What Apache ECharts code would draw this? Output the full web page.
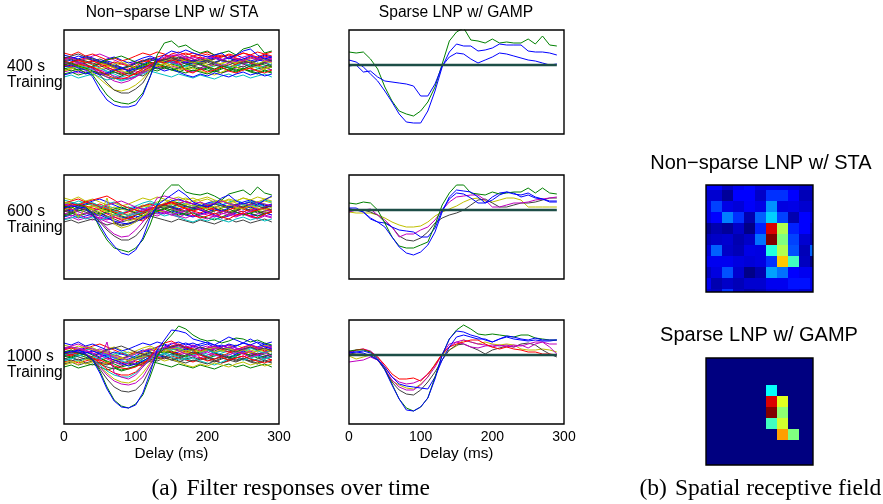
<!DOCTYPE html>
<html><head><meta charset="utf-8">
<script src="https://cdn.jsdelivr.net/npm/echarts@6/dist/echarts.min.js"></script>
<style>html,body{margin:0;padding:0;background:#fff}#c{width:883px;height:504px}</style>
</head><body><div id="c"></div>
<script>
// ---------- DATA ----------
const delays = [0,10,20,30,40,50,60,70,80,90,100,110,120,130,140,150,160,170,180,190,200,210,220,230,240,250,260,270,280,290];
const xTicks = [0,100,200,300];
const rowLabels = ['400 s', '600 s', '1000 s'];

// background (noisy) filters of the non-sparse STA estimate
const noise01 = [3,5,2,0,-2,1,4,2,-3,-5,-2,1,4,6,3,5,8,6,4,2,5,7,4,3,6,5,2,4,6,3];
const noise02 = [-4,-2,-5,-3,-6,-8,-10,-7,-9,-6,-3,-1,2,0,-2,1,-1,-4,-6,-3,-5,-7,-4,-2,-5,-3,-6,-4,-2,-5];
const noise03 = [6,8,5,7,4,2,0,-3,-5,-4,-1,3,5,8,10,7,5,6,9,7,4,6,8,10,7,5,8,6,9,7];
const noise04 = [0,-2,1,3,0,-3,-6,-9,-12,-10,-8,-4,0,3,2,4,1,-1,2,0,-3,-1,1,-2,0,2,-1,1,3,0];
const noise05 = [-7,-5,-8,-6,-4,-6,-3,-5,-7,-9,-6,-8,-5,-2,-4,-1,-3,-5,-7,-4,-2,-5,-8,-6,-3,-1,-4,-6,-3,-5];
const noise06 = [2,0,3,5,7,4,2,-1,1,3,0,-3,-1,2,5,9,7,4,2,3,1,-1,2,4,1,3,6,8,5,3];
const noise07 = [-2,1,-1,2,4,6,3,0,-2,-6,-9,-11,-6,-2,1,3,0,2,-1,-3,0,2,5,3,0,-2,1,-1,-4,-2];
const noise08 = [8,6,9,7,5,3,6,8,5,2,4,7,9,6,4,2,5,3,1,4,6,3,5,8,10,7,4,6,3,5];
const noise09 = [-9,-7,-10,-8,-6,-9,-12,-14,-11,-8,-10,-7,-4,-6,-3,-5,-7,-4,-2,-5,-3,-6,-8,-5,-7,-4,-6,-8,-5,-7];
const noise10 = [4,2,5,3,1,-2,0,3,1,-1,2,5,3,0,-2,1,3,6,4,8,5,2,0,-3,1,4,2,0,-2,1];
const noise11 = [-1,-3,0,-2,-5,-3,-7,-12,-15,-13,-11,-6,-2,1,4,2,0,-2,1,3,5,2,-1,-3,-1,2,0,-3,-1,1];
const noise12 = [5,7,4,6,9,11,8,5,2,0,3,1,-2,4,6,3,1,4,2,0,-2,1,-1,2,4,1,3,0,2,4];
const noise13 = [-5,-3,-6,-4,-1,2,0,-3,-6,-8,-5,-2,1,-1,2,0,-2,-5,-3,-6,-8,-10,-7,-4,-2,-5,-3,-1,-4,-2];
const noise14 = [1,3,6,4,2,0,-4,-7,-10,-8,-5,-3,0,2,5,8,6,9,6,3,4,6,9,7,5,2,4,1,3,5];
const noise15 = [10,8,6,9,7,4,2,-1,-3,-1,2,4,7,5,3,6,4,2,5,3,6,8,5,7,4,6,9,7,10,8];
const noise16 = [-3,-6,-4,-8,-10,-7,-9,-6,-4,-1,-3,0,3,1,-1,-3,-6,-8,-5,-7,-9,-6,-3,-5,-2,-4,-7,-9,-6,-8];
const noise17 = [12,10,13,9,11,8,5,7,4,6,9,12,10,13,11,8,10,12,9,11,13,10,8,11,9,12,10,8,11,13];
const noise18 = [-12,-10,-13,-11,-9,-12,-15,-13,-16,-14,-11,-9,-6,-8,-10,-12,-9,-11,-13,-10,-12,-14,-11,-9,-12,-10,-13,-11,-9,-12];
const noise19 = [1,-1,2,0,-3,-5,-8,-11,-13,-14,-12,-8,-3,2,6,9,11,8,6,4,7,9,6,3,5,8,10,7,4,6];
const noise20 = [-6,-4,-1,1,-2,-4,-2,1,3,0,-3,-6,-4,-1,1,-2,-5,-3,0,2,-1,-4,-2,1,-2,-5,-3,-6,-4,-1];
const noise21 = [7,9,11,8,6,3,1,-2,-4,-2,1,4,6,3,5,7,4,1,-1,1,3,0,-2,0,3,1,-2,0,2,-1];
const noise22 = [-10,-8,-6,-9,-7,-10,-8,-5,-3,-6,-4,-2,0,-3,-6,-4,-7,-10,-12,-9,-11,-8,-10,-12,-9,-7,-10,-8,-11,-9];
const noise23 = [3,1,-2,-4,-1,2,5,7,9,6,3,1,-1,-4,-2,-5,-3,0,3,1,-2,-4,-1,-3,-6,-4,-1,2,0,-2];
const noise24 = [0,3,5,2,4,1,-2,-5,-8,-11,-9,-6,-2,3,7,11,13,10,12,9,11,8,10,7,9,12,10,13,11,9];

// non-sparse, 400 s
const ns400_g = [0,2,-1,-3,-10,-20,-30,-36,-38,-39,-36,-28,-12,10,22,24,18,20,15,12,14,10,12,14,10,16,18,21,12,14];
const ns400_b = [-2,0,-3,-5,-12,-25,-35,-40,-42,-42,-40,-30,-12,5,10,14,12,15,12,10,8,10,12,6,10,14,16,10,6,8];
const ns400_k = [4,6,3,1,-3,-10,-18,-25,-28,-28,-24,-18,-6,3,6,4,8,5,3,6,4,2,5,3,6,4,2,5,7,4];
const ns400_y = [-2,0,-1,-4,-8,-14,-20,-25,-26,-24,-20,-14,-5,2,4,6,3,5,2,4,6,3,1,4,2,5,3,1,4,2];
const ns400_m = [2,1,3,0,-4,-8,-12,-16,-18,-16,-12,-6,0,5,8,10,9,7,8,6,9,7,5,8,6,4,7,5,8,6];
const ns400_r = [0,-2,1,-1,-2,-6,-10,-13,-14,-12,-8,-4,1,4,2,5,3,-6,-8,-4,-7,-5,-2,-6,-8,-5,-3,-6,-8,-5];
// non-sparse, 600 s
const ns600_b = [2,4,3,2,-5,-15,-27,-36,-43,-45,-40,-28,-8,5,10,15,20,15,8,5,3,6,12,15,9,6,8,5,10,14];
const ns600_g = [4,2,5,3,-3,-18,-30,-38,-40,-42,-38,-30,-15,5,18,25,25,18,16,15,17,14,10,16,18,20,15,23,17,15];
const ns600_k = [3,5,2,0,-4,-12,-20,-26,-30,-30,-26,-18,-6,2,5,3,6,4,2,5,3,6,4,2,5,3,6,4,2,5];
const ns600_m = [6,4,5,2,-2,-10,-18,-24,-27,-26,-20,-12,0,12,14,12,10,8,6,8,5,7,9,6,4,7,5,8,6,4];
const ns600_y = [8,6,-8,2,0,-6,12,-14,-18,-16,-12,-6,0,5,3,6,4,2,5,3,1,4,2,5,3,1,4,2,0,3];
const ns600_r = [4,6,5,8,10,12,14,10,5,2,0,-2,1,4,6,8,4,2,-5,-8,-6,-3,-7,-9,-5,-3,-6,-8,-4,-2];
// non-sparse, 1000 s
const ns1000_b = [2,4,3,1,-5,-18,-34,-46,-52,-53,-50,-38,-18,5,15,25,24,22,16,14,12,10,14,18,15,12,16,12,8,6];
const ns1000_g = [3,5,2,0,-4,-16,-32,-45,-51,-53,-49,-40,-22,-2,12,20,29,26,20,16,14,15,12,14,17,16,13,15,12,10];
const ns1000_k = [1,3,2,0,-5,-14,-24,-32,-36,-37,-35,-28,-14,0,6,8,10,7,5,8,6,4,7,5,3,6,8,5,7,4];
const ns1000_m = [4,2,3,1,-4,-12,-20,-26,-29,-30,-28,-22,-10,2,8,12,10,8,10,7,9,6,8,10,7,5,8,6,9,7];
const ns1000_y = [-8,-6,-10,-4,-6,-12,-18,-24,-27,-28,-25,-18,-8,1,5,7,6,4,6,3,5,7,4,6,3,5,2,4,6,3];
const ns1000_c = [0,2,-1,1,-4,-10,-16,-20,-22,-22,-18,-12,-4,4,6,5,7,4,6,3,5,2,4,6,3,5,7,4,2,5];
const ns1000_r = [2,0,3,1,-3,-8,-14,-18,-20,-20,-17,-10,-2,8,12,14,10,8,6,-3,-6,-4,-2,-5,-3,-1,-4,-6,-8,-5];
const ns1000_m2 = [6,8,7,5,2,-5,13,-18,-22,-24,-20,-12,-4,5,8,7,9,6,8,5,7,9,6,8,5,7,10,8,6,9];

// sparse (GAMP), 400 s
const sp400_g = [13,12,13,6,-4,-22,-36,-46,-49,-51,-46,-37,-22,1,24,33,37,25,24,22,26,22,23,22,22,26,21,29,20,19];
const sp400_b1 = [5,3,-2,-9,-16,-26,-37,-49,-57,-58,-58,-46,-26,-2,13,21,19,19,14,15,17,21,20,20,20,14,13,13,12,10];
const sp400_b2 = [-1,0,-7,-6,-12,-16,-17,-18,-19,-21,-31,-31,-19,-1,8,12,11,6,2,5,8,12,11,9,7,5,4,2,0,1];
// sparse (GAMP), 600 s
const sp600_g = [7,6,8,7,0,-13,-27,-36,-38,-38,-35,-32,-15,5,17,25,25,17,16,15,18,16,17,18,18,22,17,22,17,16];
const sp600_b1 = [2,2,-2,-8,-12,-17,-27,-37,-43,-45,-42,-35,-22,-2,13,20,19,18,13,7,10,15,18,16,15,17,13,11,9,9];
const sp600_b2 = [1,0,-2,-9,-12,-13,-17,-20,-21,-22,-27,-27,-18,0,11,17,16,12,7,7,13,17,18,17,13,15,12,11,8,8];
const sp600_m = [-2,0,0,1,-5,-10,-17,-27,-24,-24,-20,-17,-10,0,8,13,14,15,15,10,3,3,5,7,7,8,10,11,12,13];
const sp600_k = [1,0,0,-2,-5,-12,-17,-26,-30,-31,-28,-22,-13,-8,-5,-3,0,5,10,11,7,3,3,5,7,7,8,10,12,12];
const sp600_y = [-2,-3,-3,-3,-5,-8,-12,-15,-17,-17,-16,-12,-6,-2,1,4,8,11,12,9,8,10,12,12,10,3,3,3,3,3];
// sparse (GAMP), 1000 s
const sp1000_g = [4,5,5,3,-4,-14,-29,-44,-53,-56,-52,-43,-22,0,16,25,30,26,21,20,21,20,19,18,20,20,17,16,15,15];
const sp1000_b1 = [3,3,4,2,-4,-15,-30,-44,-55,-56,-52,-43,-24,0,16,24,23,20,18,15,13,16,19,18,16,15,17,15,15,15];
const sp1000_b2 = [2,3,2,-1,-5,-12,-22,-29,-31,-32,-33,-34,-22,-5,8,18,20,18,16,16,13,16,18,16,15,14,15,14,14,15];
const sp1000_r = [3,5,6,3,-2,-10,-19,-24,-24,-23,-26,-19,-10,1,8,11,13,15,15,11,8,6,8,6,5,3,3,1,1,0];
const sp1000_m1 = [1,5,6,4,-2,-12,-22,-27,-29,-28,-25,-19,-10,1,8,13,15,13,11,10,8,10,8,10,9,11,13,13,11,11];
const sp1000_m2 = [-7,-6,-5,-2,-5,-14,-25,-32,-35,-35,-30,-22,-12,1,11,13,11,8,7,9,10,9,10,8,10,7,11,13,8,1];
const sp1000_k = [2,1,1,0,-5,-14,-27,-35,-39,-40,-35,-27,-17,-5,5,10,11,8,5,1,5,7,9,8,11,12,10,5,1,-2];
const sp1000_y = [-1,-4,-2,0,-5,-15,-26,-30,-33,-34,-29,-22,-9,1,5,9,15,13,11,13,11,10,11,10,6,5,5,6,5,3];
// filters that GAMP set exactly to zero
const zeroFilter = [0,0,0,0,0,0,0,0,0,0,0,0,0,0,0,0,0,0,0,0,0,0,0,0,0,0,0,0,0,0];

// spatial receptive fields (jet colour scale, 0..1)
const staField = [
  [0.12,0.12,0.07,0.11,0.13,0.095,0.10,0.095,0.087,0.071,0.079],
  [0.079,0.079,0.026,0.125,0.125,0.071,0.172,0.172,0.125,0.055,0.047],
  [0.095,0.188,0.10,0.087,0.12,0.10,0.266,0.095,0.10,0.079,0.071],
  [0.095,0.125,0.25,0.172,0.047,0.219,0.329,0.188,0.047,0.125,0.095],
  [0.016,0.047,0.026,0.071,0.007,0.156,0.91,0.547,0.156,0.125,0.063],
  [0.055,0.071,0.079,0.047,0.071,0.235,1.0,0.5,0.188,0.079,0.047],
  [0.087,0.219,0.071,0.055,0.10,0.095,0.406,0.547,0.203,0.055,0.219],
  [0.11,0.11,0.11,0.095,0.087,0.095,0.172,0.679,0.4375,0.063,0.007],
  [0.063,0.095,0.203,0.079,0.007,0.047,0.282,0.235,0.125,0.11,0.10],
  [0.11,0.047,0.071,0.055,0.079,0.079,0.11,0.11,0.141,0.141,0.10],
  [0.079,0.063,0.172,0.063,0.04,0.055,0.087,0.095,0.095,0.079,0.071]
];
const gampField = [
  [0,0,0,0,0,0,0,0,0,0,0],
  [0,0,0,0,0,0,0,0,0,0,0],
  [0,0,0,0,0,0,0,0,0,0,0],
  [0,0,0,0,0,0,0.38,0,0,0,0],
  [0,0,0,0,0,0,0.91,0.595,0,0,0],
  [0,0,0,0,0,0,1.0,0.515,0,0,0],
  [0,0,0,0,0,0,0.4375,0.58,0,0,0],
  [0,0,0,0,0,0,0,0.72,0.5,0,0],
  [0,0,0,0,0,0,0,0,0,0,0],
  [0,0,0,0,0,0,0,0,0,0,0],
  [0,0,0,0,0,0,0,0,0,0,0]
];

// ---------- STYLE / LAYOUT ----------
const COL = {b:'#0000ff', g:'#008000', r:'#ff0000', c:'#00bfbf', m:'#bf00bf', y:'#bfbf00', k:'#404040'};
const cycle = ['b','g','r','c','m','y','k'];
const JET = ['#000080','#0000ff','#0080ff','#00ffff','#80ff80','#ffff00','#ff8000','#ff0000','#800000'];
const SANS = '"Liberation Sans", Arial, Helvetica, sans-serif';
const SERIF = '"Liberation Serif", "Times New Roman", serif';

const noiseSet = [noise01,noise02,noise03,noise04,noise05,noise06,noise07,noise08,noise09,noise10,noise11,noise12,
  noise13,noise14,noise15,noise16,noise17,noise18,noise19,noise20,noise21,noise22,noise23,noise24];
const panels = [
  {grid:0, lines: noiseSet.map((d,i)=>[cycle[i%7], d]).concat([['y',ns400_y],['k',ns400_k],['m',ns400_m],['r',ns400_r],['g',ns400_g],['b',ns400_b]])},
  {grid:1, lines: [['g',sp400_g],['b',sp400_b1],['b',sp400_b2]], zero:true},
  {grid:2, lines: noiseSet.map((d,i)=>[cycle[(i+3)%7], d]).concat([['y',ns600_y],['r',ns600_r],['k',ns600_k],['m',ns600_m],['g',ns600_g],['b',ns600_b]])},
  {grid:3, lines: [['y',sp600_y],['k',sp600_k],['m',sp600_m],['b',sp600_b2],['g',sp600_g],['b',sp600_b1]], zero:true},
  {grid:4, lines: noiseSet.map((d,i)=>[cycle[(i+5)%7], d]).concat([['c',ns1000_c],['r',ns1000_r],['y',ns1000_y],['m',ns1000_m],['m',ns1000_m2],['k',ns1000_k],['g',ns1000_g],['b',ns1000_b]])},
  {grid:5, lines: [['y',sp1000_y],['k',sp1000_k],['m',sp1000_m1],['m',sp1000_m2],['r',sp1000_r],['b',sp1000_b2],['g',sp1000_g],['b',sp1000_b1]], zero:true}
];

const lineGrids = [
  {left:64, top:30}, {left:349, top:30},
  {left:64, top:175}, {left:349, top:175},
  {left:64, top:320}, {left:349, top:320}
];
const gridBase = {show:true, borderColor:'#000', borderWidth:1.4, backgroundColor:'transparent', z:10};
const grids = lineGrids.map(g => Object.assign({}, gridBase, {left:g.left, top:g.top, width:215, height:104}));
grids.push(Object.assign({}, gridBase, {left:706, top:185, width:107, height:107}));
grids.push(Object.assign({}, gridBase, {left:706, top:358, width:107, height:107}));

const xAxes = [], yAxes = [];
for (let i = 0; i < 6; i++) {
  const bottom = i >= 4;
  xAxes.push({
    gridIndex:i, type:'value', min:xTicks[0], max:xTicks[xTicks.length-1], interval:xTicks[1]-xTicks[0],
    axisLine:{show:false}, axisTick:{show:false}, splitLine:{show:false},
    axisLabel:{show:bottom, color:'#000', fontSize:14, fontFamily:SANS, margin:6},
    name: bottom ? 'Delay (ms)' : '', nameLocation:'middle', nameGap:22,
    nameTextStyle:{color:'#000', fontSize:15.3, fontFamily:SANS}
  });
  yAxes.push({gridIndex:i, type:'value', min:-69, max:35, show:false, splitLine:{show:false}});
}
for (let i = 6; i < 8; i++) {
  xAxes.push({gridIndex:i, type:'value', min:0.55, max:10.3, show:false, splitLine:{show:false}});
  yAxes.push({gridIndex:i, type:'value', min:0.55, max:10.3, inverse:true, show:false, splitLine:{show:false}});
}

const series = [];
panels.forEach(p => {
  p.lines.forEach(([c, vals]) => {
    series.push({
      type:'line', xAxisIndex:p.grid, yAxisIndex:p.grid, symbol:'none', silent:true,
      data: delays.map((t,k)=>[t, vals[k]]),
      lineStyle:{color:COL[c], width:1}, itemStyle:{color:COL[c]}, clip:true
    });
  });
  if (p.zero) {
    series.push({
      type:'line', xAxisIndex:p.grid, yAxisIndex:p.grid, symbol:'none', silent:true,
      data: delays.map((t,k)=>[t, zeroFilter[k]]),
      lineStyle:{color:'#1d4e47', width:2.6}, clip:true, z:3
    });
  }
});

function fieldData(field) {
  const out = [];
  field.forEach((row, r) => row.forEach((v, c) => out.push([c, r, v])));
  return out;
}
function renderCell(params, api) {
  const c = api.value(0), r = api.value(1);
  const p0 = api.coord([c, r]), p1 = api.coord([c + 1, r + 1]);
  const cs = params.coordSys;
  const x0 = Math.round(Math.max(Math.min(p0[0], p1[0]), cs.x));
  const x1 = Math.round(Math.min(Math.max(p0[0], p1[0]), cs.x + cs.width));
  const y0 = Math.round(Math.max(Math.min(p0[1], p1[1]), cs.y));
  const y1 = Math.round(Math.min(Math.max(p0[1], p1[1]), cs.y + cs.height));
  if (x1 <= x0 || y1 <= y0) return null;
  return {type:'rect', shape:{x:x0, y:y0, width:x1 - x0, height:y1 - y0}, style:{fill: api.visual('color')}};
}
const heatStart = series.length;
series.push({type:'custom', xAxisIndex:6, yAxisIndex:6, renderItem:renderCell, data:fieldData(staField), encode:{x:0, y:1}, silent:true});
series.push({type:'custom', xAxisIndex:7, yAxisIndex:7, renderItem:renderCell, data:fieldData(gampField), encode:{x:0, y:1}, silent:true});

function txt(text, x, y, size, family, align) {
  return {type:'text', x:x, y:y, silent:true, z:20, style:{text:text, fill:'#000', fontSize:size, fontFamily:family,
    align:align||'center', verticalAlign:'middle', textAlign:align||'center', textVerticalAlign:'middle'}};
}
const graphics = [
  txt('Non\u2212sparse LNP w/ STA', 172, 13, 15.6, SANS),
  txt('Sparse LNP w/ GAMP', 456, 13, 15.6, SANS),
  txt('Non\u2212sparse LNP w/ STA', 761, 163, 20, SANS),
  txt('Sparse LNP w/ GAMP', 759, 335, 20, SANS),
  txt('(a)', 151.5, 489, 23.5, SERIF, 'left'),
  txt('Filter responses over time', 186.5, 489, 23.5, SERIF, 'left'),
  txt('(b)', 639.5, 489, 23.5, SERIF, 'left'),
  txt('Spatial receptive field', 675, 489, 23.5, SERIF, 'left')
];
const rowTops = [30, 175, 320];
rowLabels.forEach((lab, i) => {
  graphics.push(txt(lab, 7, rowTops[i] + 36.7, 15.6, SANS, 'left'));
  graphics.push(txt('Training', 7, rowTops[i] + 53, 15.6, SANS, 'left'));
});

const chart = echarts.init(document.getElementById('c'), null, {renderer:'canvas'});
chart.setOption({
  backgroundColor:'#fff',
  animation:false,
  grid: grids,
  xAxis: xAxes,
  yAxis: yAxes,
  visualMap: {type:'continuous', show:false, min:0, max:1, dimension:2, seriesIndex:[heatStart, heatStart+1], inRange:{color:JET}},
  series: series,
  graphic: graphics
});
</script>
</body></html>
